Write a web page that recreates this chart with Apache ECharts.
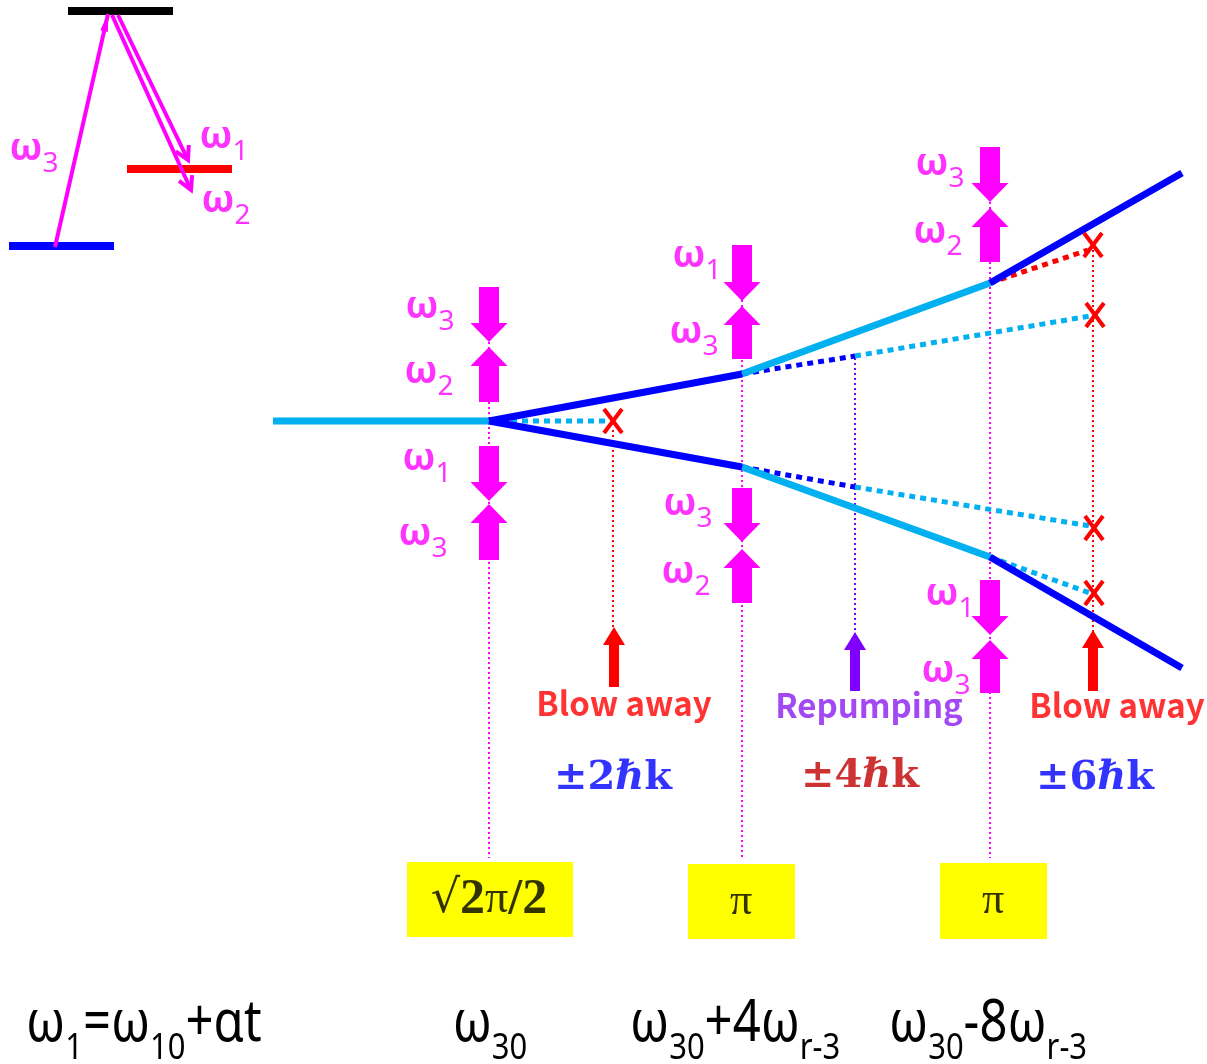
<!DOCTYPE html>
<html>
<head>
<meta charset="utf-8">
<title>Sequential Bragg beam splitter</title>
<script src="https://cdn.jsdelivr.net/npm/echarts@6/dist/echarts.min.js"></script>
<style>
  html, body { margin: 0; padding: 0; background: #ffffff; }
  #chart { width: 1207px; height: 1064px; }
</style>
</head>
<body>
<div id="chart"></div>
<script>
// ---- level scheme (top left) ----
// energy levels: [xStart, xEnd, y]
const levelBars = [[68, 173, 11], [127, 232, 169], [9, 114, 246]];
// transitions: [xTail, yTail, xTip, yTip]
const levelArrowUp = [[55, 247, 108, 14]];
const levelArrowsDown = [[118, 15, 188, 160], [112, 15, 191, 190]];
// level labels: [subscript, x, y]
const levelLabels = [['3', 34, 155], ['1', 224, 143], ['2', 226, 207]];

// ---- pulse columns ----
const pulseX = [489, 742, 990];
const pulseTop = [287, 245, 147];
const pulseBottom = 858;
// kick arrows: [x, yTail, yTip]
const kickArrows = [
  [489, 287, 342], [489, 402, 347], [489, 446, 501], [489, 560, 504],
  [742, 245, 301], [742, 359, 306], [742, 488, 542], [742, 603, 549],
  [990, 147, 202], [990, 262, 208], [990, 580, 635], [990, 693, 640]
];
// kick labels: [subscript, x, y]
const kickLabels = [
  ['3', 430, 313], ['2', 429, 378], ['1', 427, 465], ['3', 423, 540],
  ['1', 697, 262], ['3', 694, 338], ['3', 688, 510], ['2', 686, 578],
  ['3', 940, 170], ['2', 938, 238], ['1', 950, 600], ['3', 946, 677]
];

// ---- momentum paths ----
const pathsLightSolid = [
  [[273, 421], [489, 421]],
  [[742, 374], [990, 283]],
  [[742, 467], [990, 557]]
];
const pathsDarkSolid = [
  [[489, 421], [742, 374]],
  [[489, 421], [742, 467]],
  [[990, 283], [1182, 173]],
  [[990, 557], [1182, 668]]
];
const pathsLightDotted = [
  [[489, 421], [610, 421]],
  [[855, 356], [1090, 316]],
  [[855, 487], [1090, 526]],
  [[990, 557], [1090, 593]]
];
const pathsDarkDotted = [
  [[742, 374], [855, 356]],
  [[742, 467], [855, 487]]
];
const pathsRedDotted = [
  [[990, 283], [1088, 250]]
];
// removed momentum components
const lossMarks = [[613, 421], [1093, 245], [1095, 315], [1094, 528], [1094, 593]];

// ---- blow-away / repumping ----
const blowGuides = [[[613, 430], [613, 628]], [[1093, 250], [1093, 632]]];
const repumpGuides = [[[855, 358], [855, 634]]];
const blowArrows = [[614, 687, 627], [1093, 691, 630]];
const repumpArrows = [[855, 691, 632]];
const actionLabels = [['Blow away', 624, 703], ['Repumping', 869, 705], ['Blow away', 1117, 705]];
const momentumLabels = [['2', 613, 779], ['4', 860, 777], ['6', 1095, 779]];

// ---- pulse areas ----
const areaBoxes = [[407, 862, 573, 937], [688, 864, 795, 939], [940, 863, 1047, 939]];
const areaLabels = [['√2π/2', 489, 900], ['π', 741, 902], ['π', 993, 901]];

// ---- frequency row ----
const freqLabels = [
  ['{w|ω}{s|1}{w|=ω}{s|10}{w|+αt}', 26, 1033, 'left'],
  ['{w|ω}{s|30}', 490, 1033, 'center'],
  ['{w|ω}{s|30}{w|+4ω}{s|r-3}', 630, 1033, 'left'],
  ['{w|ω}{s|30}{w|-8ω}{s|r-3}', 889, 1033, 'left']
];

const MAGENTA = '#ff00ff';
const LIGHT = '#00b0f0';
const DARK = '#0000ff';
const RED = '#ff0000';
const PURPLE = '#8000ff';

function lineSeries(paths, color, width, dash, z) {
  return paths.map(function (p) {
    return {
      type: 'line', data: p, symbol: 'none', silent: true, animation: false, z: z,
      lineStyle: { color: color, width: width, type: dash || 'solid', cap: 'butt' }
    };
  });
}

function blockArrowSeries(data, color, shaftW, headW, headL) {
  return {
    type: 'custom', data: data, silent: true, animation: false, z: 5,
    renderItem: function (params, api) {
      const a = api.coord([api.value(0), api.value(1)]);
      const b = api.coord([api.value(0), api.value(2)]);
      const dir = b[1] > a[1] ? 1 : -1;
      const cx = a[0], hb = b[1] - dir * headL;
      return {
        type: 'polygon',
        shape: { points: [[cx - shaftW / 2, a[1]], [cx + shaftW / 2, a[1]], [cx + shaftW / 2, hb],
          [cx + headW / 2, hb], [cx, b[1]], [cx - headW / 2, hb], [cx - shaftW / 2, hb]] },
        style: { fill: color }
      };
    }
  };
}

function slantArrowSeries(data, color, filled) {
  return {
    type: 'custom', data: data, silent: true, animation: false, z: 5,
    renderItem: function (params, api) {
      const a = api.coord([api.value(0), api.value(1)]);
      const b = api.coord([api.value(2), api.value(3)]);
      const ang = Math.atan2(b[1] - a[1], b[0] - a[0]);
      const L = filled ? 18 : 15, s = filled ? 0.22 : 0.5;
      const p1 = [b[0] - L * Math.cos(ang - s), b[1] - L * Math.sin(ang - s)];
      const p2 = [b[0] - L * Math.cos(ang + s), b[1] - L * Math.sin(ang + s)];
      const head = filled
        ? { type: 'polygon', shape: { points: [p1, b, p2] }, style: { fill: color } }
        : { type: 'polyline', shape: { points: [p1, b, p2] }, style: { stroke: color, lineWidth: 4, fill: null } };
      return {
        type: 'group',
        children: [
          { type: 'line', shape: { x1: a[0], y1: a[1], x2: b[0], y2: b[1] }, style: { stroke: color, lineWidth: 4 } },
          head
        ]
      };
    }
  };
}

function textSeries(items, z) {
  return {
    type: 'scatter', symbolSize: 0, silent: true, animation: false, z: z || 10,
    itemStyle: { color: 'transparent' },
    data: items
  };
}

const omegaRich = {
  w: { fontFamily: 'Noto Sans', fontWeight: 'bold', fontSize: 38, color: MAGENTA, verticalAlign: 'bottom', lineHeight: 46, padding: [0, 0, 10, 0] },
  s: { fontFamily: 'Noto Sans', fontSize: 28, color: MAGENTA, verticalAlign: 'bottom', lineHeight: 34 }
};

function omegaItem(l) {
  return {
    value: [l[1], l[2]],
    label: {
      show: true, position: 'inside', align: 'center', verticalAlign: 'middle',
      formatter: '{w|ω}{s|' + l[0] + '}', rich: omegaRich
    }
  };
}

const series = [];

// yellow pulse-area boxes
series.push({
  type: 'custom', data: areaBoxes, silent: true, animation: false, z: 1,
  renderItem: function (params, api) {
    const p0 = api.coord([api.value(0), api.value(1)]);
    const p1 = api.coord([api.value(2), api.value(3)]);
    return { type: 'rect', shape: { x: p0[0], y: p0[1], width: p1[0] - p0[0], height: p1[1] - p0[1] }, style: { fill: '#ffff00' } };
  }
});

// level scheme
levelBars.forEach(function (b, i) {
  series.push.apply(series, lineSeries([[[b[0], b[2]], [b[1], b[2]]]], ['#000000', RED, DARK][i], 8, 'solid', 3));
});
series.push(slantArrowSeries(levelArrowUp, MAGENTA, true));
series.push(slantArrowSeries(levelArrowsDown, MAGENTA, false));
series.push(textSeries(levelLabels.map(omegaItem)));

// vertical guides
series.push.apply(series, lineSeries(pulseX.map(function (x, i) { return [[x, pulseTop[i]], [x, pulseBottom]]; }), MAGENTA, 2, [2, 3], 2));
series.push.apply(series, lineSeries(blowGuides, RED, 2, [2, 3], 2));
series.push.apply(series, lineSeries(repumpGuides, PURPLE, 2, [2, 3], 2));

// momentum paths
series.push.apply(series, lineSeries(pathsLightDotted, LIGHT, 5, [6, 5], 3));
series.push.apply(series, lineSeries(pathsDarkDotted, DARK, 5, [6, 5], 3));
series.push.apply(series, lineSeries(pathsRedDotted, RED, 5, [6, 5], 3));
series.push.apply(series, lineSeries(pathsLightSolid, LIGHT, 7, 'solid', 4));
series.push.apply(series, lineSeries(pathsDarkSolid, DARK, 7, 'solid', 4));

// loss crosses
series.push({
  type: 'custom', data: lossMarks, silent: true, animation: false, z: 6,
  renderItem: function (params, api) {
    const c = api.coord([api.value(0), api.value(1)]);
    const dx = 9, dy = 12;
    return {
      type: 'group',
      children: [
        { type: 'line', shape: { x1: c[0] - dx, y1: c[1] - dy, x2: c[0] + dx, y2: c[1] + dy }, style: { stroke: RED, lineWidth: 4 } },
        { type: 'line', shape: { x1: c[0] + dx, y1: c[1] - dy, x2: c[0] - dx, y2: c[1] + dy }, style: { stroke: RED, lineWidth: 4 } }
      ]
    };
  }
});

// kick arrows and labels
series.push(blockArrowSeries(kickArrows, MAGENTA, 20, 37, 19));
series.push(textSeries(kickLabels.map(omegaItem)));

// blow-away and repump arrows
series.push(blockArrowSeries(blowArrows, RED, 10, 22, 18));
series.push(blockArrowSeries(repumpArrows, PURPLE, 10, 22, 18));

series.push(textSeries(actionLabels.map(function (l) {
  return {
    value: [l[1], l[2]],
    label: {
      show: true, position: 'inside', align: 'center', verticalAlign: 'middle',
      formatter: l[0], fontFamily: 'Noto Sans CJK SC', fontWeight: 'bold', fontSize: 33,
      color: l[0] === 'Repumping' ? '#8b1cf0' : RED
    }
  };
})));

series.push(textSeries(momentumLabels.map(function (l) {
  const col = l[0] === '4' ? '#c00000' : '#0000ff';
  return {
    value: [l[1], l[2]],
    label: {
      show: true, position: 'inside', align: 'center', verticalAlign: 'middle',
      formatter: '{a|±' + l[0] + '}{h|ℏ}{a|k}',
      rich: {
        a: { fontFamily: 'DejaVu Serif', fontWeight: 'bold', fontSize: 40, color: col },
        h: { fontFamily: 'DejaVu Serif', fontWeight: 'bold', fontStyle: 'italic', fontSize: 40, color: col }
      }
    }
  };
})));

series.push(textSeries(areaLabels.map(function (l) {
  const isRoot = l[0].indexOf('√') === 0;
  return {
    value: [l[1], l[2]],
    label: {
      show: true, position: 'inside', align: 'center', verticalAlign: 'middle',
      formatter: isRoot ? '{r|√}{b|2}{p|π}{b|/2}' : '{p|π}',
      rich: {
        r: { fontFamily: 'DejaVu Serif', fontSize: 46, color: '#000' },
        b: { fontFamily: 'Liberation Serif', fontWeight: 'bold', fontSize: 50, color: '#000' },
        p: { fontFamily: 'Liberation Serif', fontSize: isRoot ? 46 : 44, color: '#000' }
      }
    }
  };
}), 11));

// frequency row, drawn as tall lettering
series.push({
  type: 'custom', data: freqLabels.map(function (l) { return [l[1], l[2]]; }),
  silent: true, animation: false, z: 10,
  renderItem: function (params, api) {
    const l = freqLabels[params.dataIndex];
    const c = api.coord([api.value(0), api.value(1)]);
    return {
      type: 'text', x: c[0], y: c[1], scaleY: 1.2,
      style: {
        text: l[0], align: l[3], verticalAlign: 'middle',
        rich: {
          w: { fontFamily: 'Noto Sans', fontSize: 49, fill: '#000', verticalAlign: 'bottom', lineHeight: 56, padding: [0, 0, 11, 0] },
          s: { fontFamily: 'Noto Sans', fontSize: 31, fill: '#000', verticalAlign: 'bottom', lineHeight: 38 }
        }
      }
    };
  }
});

const chart = echarts.init(document.getElementById('chart'), null, { renderer: 'canvas' });
chart.setOption({
  backgroundColor: '#ffffff',
  animation: false,
  grid: { left: 0, right: 0, top: 0, bottom: 0 },
  xAxis: { type: 'value', min: 0, max: 1207, show: false },
  yAxis: { type: 'value', min: 0, max: 1064, inverse: true, show: false },
  series: series
});
</script>
</body>
</html>
